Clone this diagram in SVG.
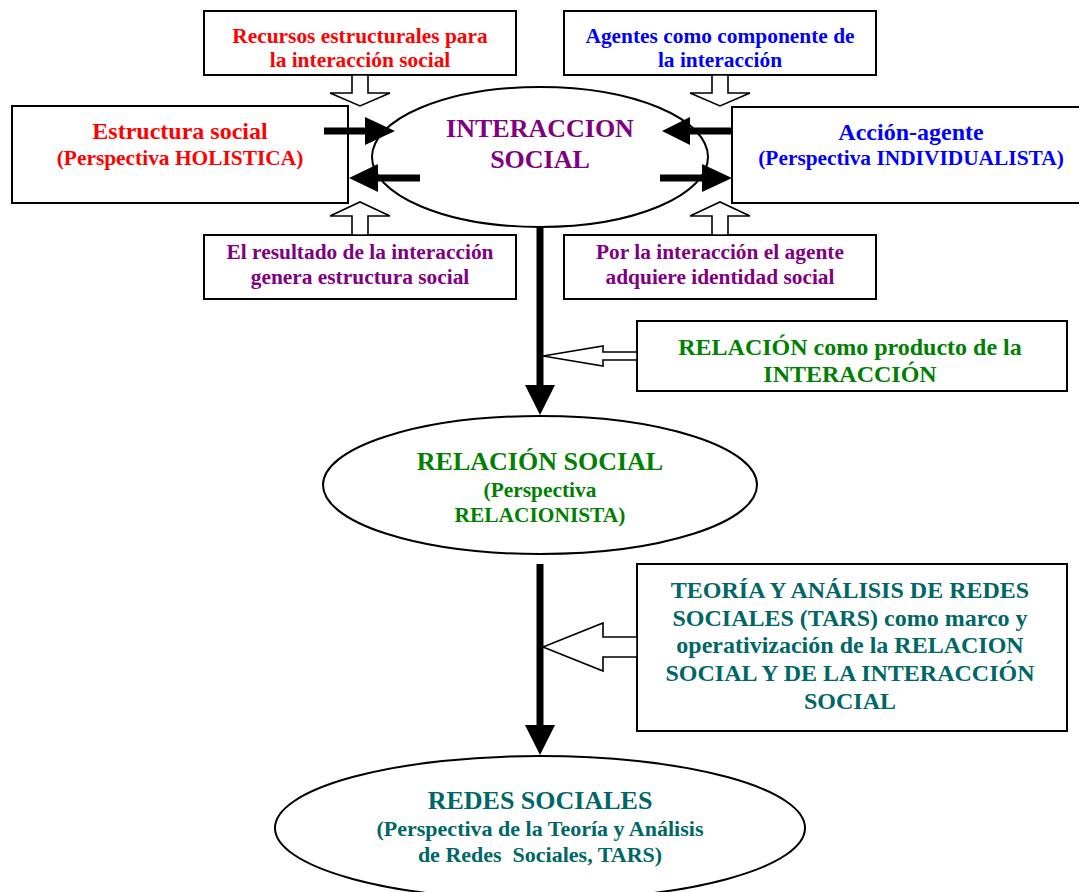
<svg xmlns="http://www.w3.org/2000/svg" width="1079" height="892" viewBox="0 0 1079 892">
<style>
.box{fill:#fff;stroke:#000;stroke-width:2}
.ell{fill:#fff;stroke:#000;stroke-width:2}
.hol{fill:#fff;stroke:#000;stroke-width:1.6;stroke-linejoin:miter}
.blk{fill:#000;stroke:none}
text{font-family:"Liberation Serif","Times New Roman",serif;font-weight:bold;text-anchor:middle}
.s21{font-size:21.4px}.s20{font-size:21.4px}.s22{font-size:22px}.s24{font-size:24px}.s26{font-size:26px}
.red{fill:#ff0000}.blue{fill:#0000ff}.pur{fill:#800080}.grn{fill:#008000}.teal{fill:#006666}
</style>
<g id="n-recursos">
<rect class="box" x="204" y="11" width="312" height="64"/>
<text class="s21 red" x="360" y="43">Recursos estructurales para</text>
<text class="s21 red" x="360" y="67">la interacción social</text>
</g>
<g id="n-agentes">
<rect class="box" x="564" y="11" width="312" height="64"/>
<text class="s21 blue" x="720" y="43">Agentes como componente de</text>
<text class="s21 blue" x="720" y="67">la interacción</text>
</g>
<g id="n-estructura">
<rect class="box" x="12" y="106" width="336" height="97"/>
<text class="s24 red" x="180" y="139">Estructura social</text>
<text class="s20 red" x="180" y="165">(Perspectiva HOLISTICA)</text>
</g>
<g id="n-accion">
<rect class="box" x="732" y="107" width="360" height="96"/>
<text class="s24 blue" x="911" y="140">Acción-agente</text>
<text class="s20 blue" x="911" y="165">(Perspectiva INDIVIDUALISTA)</text>
</g>
<g id="n-interaccion">
<ellipse class="ell" cx="540" cy="157" rx="168" ry="70"/>
<text class="s26 pur" x="540" y="137">INTERACCION</text>
<text class="s26 pur" x="540" y="168">SOCIAL</text>
</g>
<g id="n-resultado">
<rect class="box" x="204" y="235" width="312" height="64"/>
<text class="s21 pur" x="360" y="259">El resultado de la interacción</text>
<text class="s21 pur" x="360" y="284">genera estructura social</text>
</g>
<g id="n-identidad">
<rect class="box" x="564" y="235" width="312" height="64"/>
<text class="s21 pur" x="720" y="259">Por la interacción el agente</text>
<text class="s21 pur" x="720" y="284">adquiere identidad social</text>
</g>
<g id="n-relacion-producto">
<rect class="box" x="637" y="321" width="430" height="70"/>
<text class="s24 grn" x="850" y="355">RELACIÓN como producto de la</text>
<text class="s24 grn" x="850" y="382">INTERACCIÓN</text>
</g>
<g id="n-relacion-social">
<ellipse class="ell" cx="540" cy="485" rx="217" ry="69"/>
<text class="s26 grn" x="540" y="470">RELACIÓN SOCIAL</text>
<text class="s21 grn" x="540" y="497">(Perspectiva</text>
<text class="s21 grn" x="540" y="522">RELACIONISTA)</text>
</g>
<g id="n-tars">
<rect class="box" x="637" y="564" width="430" height="167"/>
<text class="s24 teal" x="850" y="598">TEORÍA Y ANÁLISIS DE REDES</text>
<text class="s24 teal" x="850" y="626">SOCIALES (TARS) como marco y</text>
<text class="s24 teal" x="850" y="653">operativización de la RELACION</text>
<text class="s24 teal" x="850" y="681">SOCIAL Y DE LA INTERACCIÓN</text>
<text class="s24 teal" x="850" y="709">SOCIAL</text>
</g>
<g id="n-redes">
<ellipse class="ell" cx="540" cy="828" rx="265" ry="72"/>
<text class="s26 teal" x="540" y="809">REDES SOCIALES</text>
<text class="s22 teal" x="540" y="836">(Perspectiva de la Teoría y Análisis</text>
<text class="s22 teal" x="540" y="862" xml:space="preserve">de Redes  Sociales, TARS)</text>
</g>
<g id="connectors">
<polygon class="hol" points="352,75 368,75 368,93 390,93 360,106 330,93 352,93"/>
<polygon class="hol" points="712,75 728,75 728,93 750,93 720,106 690,93 712,93"/>
<polygon class="hol" points="352,235 368,235 368,216 390,216 360,202 330,216 352,216"/>
<polygon class="hol" points="712,235 728,235 728,216 750,216 720,202 690,216 712,216"/>
<polygon class="blk" points="324,127.5 365,127.5 365,117 395,131 365,145 365,134.5 324,134.5"/>
<polygon class="blk" points="420,174.5 378,174.5 378,164 349,178 378,192 378,181.5 420,181.5"/>
<polygon class="blk" points="732,127.5 690,127.5 690,117 662,131 690,145 690,134.5 732,134.5"/>
<polygon class="blk" points="660,174.5 702,174.5 702,164 732,178 702,192 702,181.5 660,181.5"/>
<polygon class="blk" points="536.5,227 543.5,227 543.5,385 555,385 540,415 525,385 536.5,385"/>
<polygon class="blk" points="536.5,564 543.5,564 543.5,725 555,725 540,755 525,725 536.5,725"/>
<polygon class="hol" points="637,352 603,352 603,346 543,356 603,366 603,360 637,360"/>
<polygon class="hol" points="637,637 603,637 603,623 543,647 603,671 603,657 637,657"/>
</g>
</svg>
